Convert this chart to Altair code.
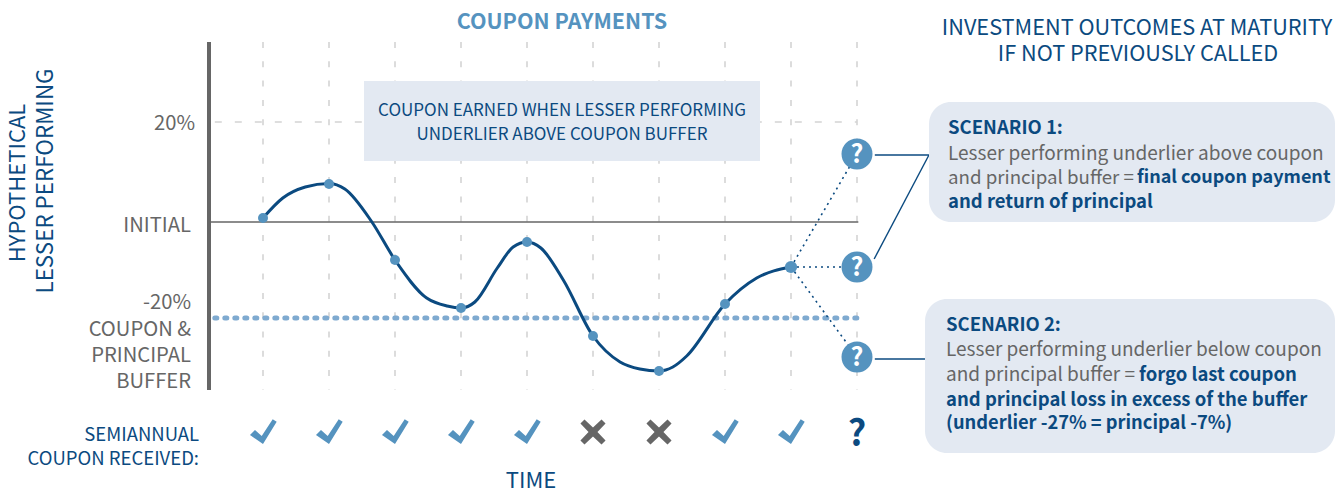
import altair as alt
import pandas as pd

FONT = "Noto Sans CJK SC"
NAVY = "#0b4a80"
BLUE = "#5593bf"
GREY = "#666666"
PANEL = "#e3e9f2"

# ---- data ----
periods = [1, 2, 3, 4, 5, 6, 7, 8, 9]
performance = [0.8, 7.6, -7.6, -17.2, -4.0, -22.8, -29.8, -16.4, -9.0]
path_time = [1, 1.30, 1.64, 2, 2.24, 2.65, 3, 3.48, 3.79, 4, 4.21, 4.55, 4.79, 5, 5.21,
             5.55, 6, 6.41, 6.71, 7, 7.21, 7.42, 8, 8.48, 9]
path_value = [0.8, 4.8, 7, 7.7, 6.6, 0, -7.6, -15.2, -16.8, -17.2, -16, -9.2, -5, -4, -5.2,
              -11.6, -22.8, -28, -29.4, -29.8, -29, -26.8, -16.4, -11.2, -9]
outcome_values = [13.6, -9.0, -27.0]
coupon_periods = [1, 2, 3, 4, 5, 6, 7, 8, 9, 10]
coupon_status = ["yes", "yes", "yes", "yes", "yes", "no", "no", "yes", "yes", "unknown"]
buffer_level = -19.2
initial_level = 0
upper_level = 20

y_tick_labels = ["20%", "INITIAL", "-20%", "COUPON &", "PRINCIPAL", "BUFFER"]
y_title_lines = ["HYPOTHETICAL", "LESSER PERFORMING"]
box_lines = ["COUPON EARNED WHEN LESSER PERFORMING", "UNDERLIER ABOVE COUPON BUFFER"]
right_title_lines = ["INVESTMENT OUTCOMES AT MATURITY", "IF NOT PREVIOUSLY CALLED"]
coupon_label_lines = ["SEMIANNUAL", "COUPON RECEIVED:"]

x_scale = alt.Scale(domain=[-2.8636, 17.2424], nice=False, zero=False)
y_scale = alt.Scale(domain=[-54, 42.8], nice=False, zero=False)
X = lambda f: alt.X(f, type="quantitative", scale=x_scale, axis=None)
Y = lambda f: alt.Y(f, type="quantitative", scale=y_scale, axis=None)

CHECK = "M-0.963 0.222L-0.593 -0.148L-0.096 0.296L0.719 -0.941L1.015 -0.763L0 0.889Z"
CROSS = "M-0.63 -0.93L0 -0.33L0.63 -0.93L0.93 -0.63L0.33 0L0.93 0.63L0.63 0.93L0 0.33L-0.63 0.93L-0.93 0.63L-0.33 0L-0.93 -0.63Z"

one = pd.DataFrame({"a": [0]})


def px(v):
    return alt.value(v - 8)


def label(text, x, y, size, color, weight=400, align="left", angle=0):
    return alt.Chart(pd.DataFrame({"t": [text]})).mark_text(
        font=FONT, fontSize=size, color=color, fontWeight=weight, align=align,
        baseline="middle", angle=angle,
    ).encode(x=px(x), y=px(y), text="t:N")


def panel(x0, x1, y0, y1, radius=0):
    return alt.Chart(one).mark_rect(color=PANEL, cornerRadius=radius).encode(
        x=px(x0), x2=px(x1), y=px(y0), y2=px(y1))


layers = []

# grid
grid_df = pd.DataFrame({"p": coupon_periods, "y0": [36] * 10, "y1": [-33.6] * 10})
layers.append(alt.Chart(grid_df).mark_rule(color="#d4d4d4", strokeWidth=1.6, strokeDash=[6, 13.3]).encode(
    x=X("p"), y=Y("y0"), y2="y1"))
layers.append(alt.Chart(pd.DataFrame({"x0": [0.27], "x1": [10], "v": [upper_level]})).mark_rule(
    color="#d4d4d4", strokeWidth=1.4, strokeDash=[7, 13]).encode(x=X("x0"), x2="x1", y=Y("v")))

# box
layers.append(panel(364, 760, 81, 161))
layers.append(label(box_lines[0], 562, 111, 17, NAVY, align="center"))
layers.append(label(box_lines[1], 562, 135, 17, NAVY, align="center"))

# axis + reference lines
layers.append(alt.Chart(pd.DataFrame({"x": [0.1818], "y0": [36], "y1": [-33.6]})).mark_rule(
    color=GREY, strokeWidth=4).encode(x=X("x"), y=Y("y0"), y2="y1"))
layers.append(alt.Chart(pd.DataFrame({"x0": [0.2], "x1": [10.02], "v": [initial_level]})).mark_rule(
    color=GREY, strokeWidth=1.5).encode(x=X("x0"), x2="x1", y=Y("v")))
layers.append(alt.Chart(pd.DataFrame({"x0": [0.27], "x1": [10], "v": [buffer_level]})).mark_rule(
    color="#7faad0", strokeWidth=5, strokeCap="round", strokeDash=[2, 8]).encode(x=X("x0"), x2="x1", y=Y("v")))

# outcome connectors
conn = pd.DataFrame({"x0": [9] * 3, "y0": [performance[-1]] * 3, "x1": [10] * 3, "y1": outcome_values})
layers.append(alt.Chart(conn).mark_rule(color=NAVY, strokeWidth=1.6, strokeDash=[2, 4]).encode(
    x=X("x0"), x2="x1", y=Y("y0"), y2="y1"))

# solid callout lines
call = pd.DataFrame({
    "x0": [10.27, 11.09, 10.27], "x1": [11.09, 10.26, 11.03],
    "y0": [13.4, 13.4, -27.4], "y1": [13.4, -7.4, -27.4]})
layers.append(alt.Chart(call).mark_rule(color=NAVY, strokeWidth=1.4).encode(
    x=X("x0"), x2="x1", y=Y("y0"), y2="y1"))

# curve
path = pd.DataFrame({"p": path_time, "v": path_value})
layers.append(alt.Chart(path).mark_line(color=NAVY, strokeWidth=3, interpolate="monotone").encode(
    x=X("p"), y=Y("v")))
curve = pd.DataFrame({"p": periods, "v": performance, "s": [100] * 8 + [150]})
layers.append(alt.Chart(curve).mark_point(filled=True, opacity=1, color=BLUE).encode(
    x=X("p"), y=Y("v"), size=alt.Size("s:Q", scale=None, legend=None)))

# outcome bubbles
bub = pd.DataFrame({"p": [10, 10, 10], "v": outcome_values, "t": ["?", "?", "?"]})
layers.append(alt.Chart(bub).mark_point(filled=True, opacity=1, color=BLUE, size=960).encode(
    x=X("p"), y=Y("v")))
layers.append(alt.Chart(bub).mark_text(font=FONT, fontSize=25, fontWeight=700, color="white", baseline="middle", dy=1).encode(
    x=X("p"), y=Y("v"), text="t:N"))

# coupon row
status = pd.DataFrame({"p": coupon_periods, "s": coupon_status, "v": [-42] * 10})
layers.append(alt.Chart(status[status.s == "yes"]).mark_point(
    shape=CHECK, filled=True, opacity=1, color=BLUE, size=729).encode(x=X("p"), y=Y("v")))
layers.append(alt.Chart(status[status.s == "no"]).mark_point(
    shape=CROSS, filled=True, opacity=1, color=GREY, size=729).encode(x=X("p"), y=Y("v")))
layers.append(alt.Chart(status[status.s == "unknown"]).transform_calculate(t="'?'").mark_text(
    font=FONT, fontSize=36, fontWeight=700, color=NAVY, baseline="middle", dy=3).encode(
    x=X("p"), y=Y("v"), text="t:N"))

# left labels
for t, x, y in zip(y_tick_labels, [195, 191, 191, 191, 191, 191], [124, 226, 303, 330, 356, 382]):
    layers.append(label(t, x, y, 20.2, GREY, align="right"))
layers.append(label(y_title_lines[0], 18, 183, 22, NAVY, align="center", angle=270))
layers.append(label(y_title_lines[1], 46, 181, 22.4, NAVY, align="center", angle=270))
layers.append(label(coupon_label_lines[0], 199, 435, 18.5, NAVY, align="right"))
layers.append(label(coupon_label_lines[1], 199, 459, 18.5, NAVY, align="right"))
layers.append(label("TIME", 531, 481, 22, NAVY, align="center"))

# titles
layers.append(label("COUPON PAYMENTS", 562, 23, 21.5, BLUE, weight=700, align="center"))
layers.append(label(right_title_lines[0], 1137, 28, 21.7, NAVY, align="center"))
layers.append(label(right_title_lines[1], 1138, 54, 21.7, NAVY, align="center"))

# scenario panels
layers.append(panel(929, 1335, 102, 222, 22))
layers.append(panel(925, 1335, 299, 453, 22))
layers.append(label("SCENARIO 1:", 948, 128, 18.5, NAVY, weight=700))
layers.append(label("Lesser performing underlier above coupon", 948, 154, 19, GREY))
layers.append(label("and principal buffer =", 948, 178, 18.7, GREY))
layers.append(label("final coupon payment", 1137, 178, 18, NAVY, weight=700))
layers.append(label("and return of principal", 948, 202, 18.5, NAVY, weight=700))
layers.append(label("SCENARIO 2:", 946, 325, 18.5, NAVY, weight=700))
layers.append(label("Lesser performing underlier below coupon", 946, 350, 19, GREY))
layers.append(label("and principal buffer =", 946, 375, 19, GREY))
layers.append(label("forgo last coupon", 1139, 375, 18.5, NAVY, weight=700))
layers.append(label("and principal loss in excess of the buffer", 946, 400, 18.5, NAVY, weight=700))
layers.append(label("(underlier -27% = principal -7%)", 946, 424, 18.3, NAVY, weight=700))

chart = alt.layer(*layers).properties(
    width=1327, height=484, padding=0,
    autosize=alt.AutoSizeParams(type="none"),
).configure_view(stroke=None)

chart.save("out.html", embed_options={"renderer": "svg", "actions": False})
